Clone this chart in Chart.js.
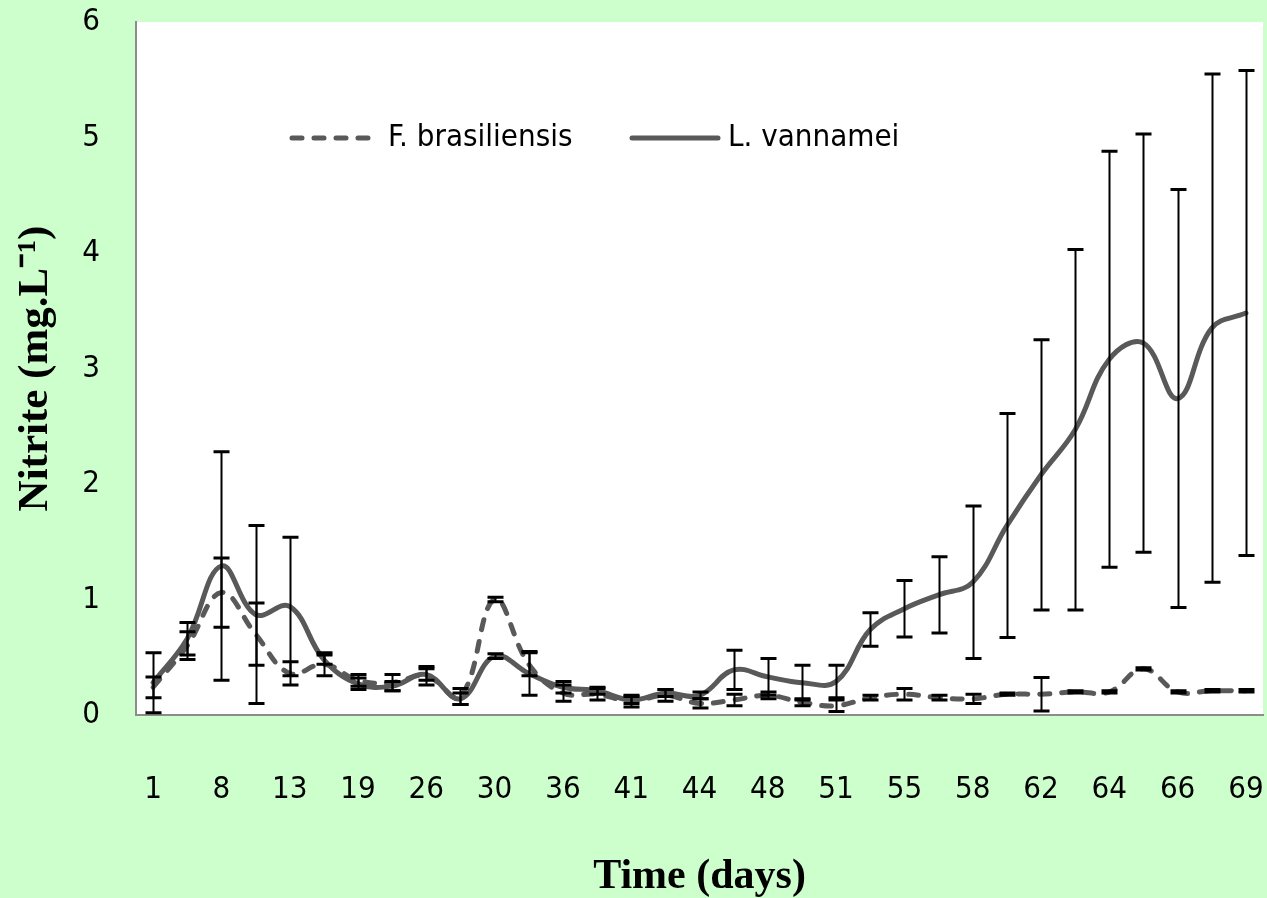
<!DOCTYPE html>
<html>
<head>
<meta charset="utf-8">
<script src="https://cdn.jsdelivr.net/npm/chart.js@4.4.1/dist/chart.umd.min.js"></script>
<style>
    html, body { margin: 0; padding: 0; background: #ccffcc; }
    canvas { display: block; }
</style>
</head>
<body>
<canvas id="nitrite-chart" width="1267" height="898"></canvas>
<script>
// sampling days (only every other one gets a label on the axis)
const days = [1, 4, 8, 11, 13, 16, 19, 22, 26, 28, 30, 33, 36, 39, 41, 43, 44,
    46, 48, 50, 51, 53, 55, 57, 58, 60, 62, 63, 64, 65, 66, 67, 69];

// F. brasiliensis, mean and +/- error
const fbValues = [0.24, 0.6, 1.06, 0.7, 0.36, 0.44, 0.3, 0.28, 0.34, 0.16, 1.0, 0.44, 0.19, 0.18, 0.12, 0.17, 0.1,
    0.13, 0.17, 0.11, 0.08, 0.15, 0.18, 0.15, 0.14, 0.18, 0.18, 0.2, 0.2, 0.4, 0.2, 0.21, 0.21];
const fbErrors = [0.09, 0.12, 0.3, 0.27, 0.1, 0.1, 0.05, 0.07, 0.08, 0.07, 0.02, 0.1, 0.07, 0.05, 0.05, 0.05, 0.04,
    0.05, 0.03, 0.03, 0.05, 0.02, 0.05, 0.02, 0.04, 0.01, 0.145, 0.01, 0.01, 0.01, 0.01, 0.01, 0.01];

// L. vannamei, mean and +/- error
const lvValues = [0.28, 0.66, 1.29, 0.87, 0.94, 0.48, 0.27, 0.25, 0.35, 0.14, 0.51, 0.36, 0.24, 0.21, 0.13, 0.19, 0.17,
    0.39, 0.33, 0.28, 0.29, 0.74, 0.92, 1.04, 1.15, 1.64, 2.08, 2.47, 3.08, 3.22, 2.74, 3.35, 3.48];
const lvErrors = [0.26, 0.14, 0.99, 0.77, 0.6, 0.04, 0.05, 0.04, 0.05, 0.05, 0.02, 0.19, 0.05, 0.03, 0.03, 0.03, 0.03,
    0.17, 0.16, 0.15, 0.14, 0.145, 0.245, 0.33, 0.66, 0.97, 1.17, 1.56, 1.8, 1.81, 1.81, 2.2, 2.1];

const yTicks = [0, 1, 2, 3, 4, 5, 6];

const linecolor = "#595959";
const tickfont = "'DejaVu Sans Condensed', 'Liberation Sans Narrow', sans-serif";
const titlefont = "'Liberation Serif', 'Times New Roman', serif";

const backgroundplugin = {
    id: "background",
    beforeDraw(chart) {
        const { ctx, chartArea } = chart;
        ctx.save();
        ctx.fillStyle = "#ccffcc";
        ctx.fillRect(0, 0, chart.width, chart.height);
        ctx.fillStyle = "#ffffff";
        ctx.fillRect(chartArea.left, chartArea.top, chartArea.right - chartArea.left, chartArea.bottom - chartArea.top);
        ctx.restore();
    },
};

const errorbarplugin = {
    id: "errorbars",
    afterDatasetsDraw(chart) {
        const { ctx, chartArea } = chart;
        const yscale = chart.scales.y;
        ctx.save();
        ctx.strokeStyle = "#000000";
        chart.data.datasets.forEach((ds, i) => {
            const meta = chart.getDatasetMeta(i);
            meta.data.forEach((pt, j) => {
                const v = ds.data[j];
                const e = ds.errors[j];
                const top = Math.max(chartArea.top, yscale.getPixelForValue(v + e));
                const bottom = Math.min(chartArea.bottom, yscale.getPixelForValue(Math.max(0, v - e)));
                const x = Math.round(pt.x) + 0.5;
                ctx.lineWidth = 2;
                ctx.beginPath();
                ctx.moveTo(x, top);
                ctx.lineTo(x, bottom);
                ctx.stroke();
                ctx.lineWidth = 3;
                ctx.beginPath();
                ctx.moveTo(x - 8, top);
                ctx.lineTo(x + 8, top);
                ctx.moveTo(x - 8, bottom);
                ctx.lineTo(x + 8, bottom);
                ctx.stroke();
            });
        });
        ctx.restore();
    },
};

// legend sits inside the plot area, so it is drawn by hand
const legendplugin = {
    id: "insidelegend",
    afterDraw(chart) {
        const { ctx } = chart;
        const items = [
            { ds: chart.data.datasets[0], x: 292 },
            { ds: chart.data.datasets[1], x: 632 },
        ];
        const y = 138;
        ctx.save();
        items.forEach((item) => {
            ctx.strokeStyle = item.ds.borderColor;
            ctx.lineWidth = item.ds.borderWidth;
            ctx.lineCap = "round";
            ctx.setLineDash(item.ds.borderDash || []);
            ctx.beginPath();
            ctx.moveTo(item.x, y);
            ctx.lineTo(item.x + 86, y);
            ctx.stroke();
            ctx.setLineDash([]);
            ctx.fillStyle = "#000000";
            ctx.font = `31px ${tickfont}`;
            ctx.textBaseline = "middle";
            ctx.textAlign = "left";
            ctx.fillText(item.ds.label, item.x + 96, y);
        });
        ctx.restore();
    },
};

const ctx = document.getElementById("nitrite-chart").getContext("2d");

const chart = new Chart(ctx, {
    type: "line",
    data: {
        labels: days,
        datasets: [
            {
                label: "F. brasiliensis",
                data: fbValues,
                errors: fbErrors,
                borderColor: linecolor,
                borderWidth: 5,
                borderDash: [10, 12],
                borderCapStyle: "round",
                tension: 0.4,
                pointRadius: 0,
                order: 1,
            },
            {
                label: "L. vannamei",
                data: lvValues,
                errors: lvErrors,
                borderColor: linecolor,
                borderWidth: 5,
                borderCapStyle: "round",
                tension: 0.4,
                pointRadius: 0,
                order: 0,
            },
        ],
    },
    options: {
        responsive: false,
        animation: false,
        layout: {
            padding: { top: 22, right: 4, left: 0, bottom: 0 },
        },
        plugins: {
            legend: { display: false },
            tooltip: { enabled: false },
        },
        scales: {
            x: {
                offset: true,
                grid: { display: false, drawTicks: false },
                border: { display: true, color: "#8c8c8c", width: 2 },
                ticks: {
                    autoSkip: false,
                    maxRotation: 0,
                    padding: 56,
                    color: "#000000",
                    font: { family: tickfont, size: 31 },
                    callback: function (value, index) {
                        return index % 2 === 0 ? String(days[index]) : "";
                    },
                },
                title: {
                    display: true,
                    text: "Time (days)",
                    color: "#000000",
                    font: { family: titlefont, size: 42, weight: "bold", lineHeight: 1 },
                    padding: 0,
                },
                afterFit: function (scale) {
                    scale.height = 183;
                    scale.paddingLeft = 0;
                    scale.paddingRight = 0;
                },
            },
            y: {
                min: yTicks[0],
                max: yTicks[yTicks.length - 1],
                grid: { display: false, drawTicks: false },
                border: { display: true, color: "#8c8c8c", width: 2 },
                ticks: {
                    stepSize: 1,
                    padding: 36,
                    color: "#000000",
                    font: { family: tickfont, size: 31 },
                },
                title: {
                    display: true,
                    text: "Nitrite (mg.L\u207B\u00B9)",
                    color: "#000000",
                    font: { family: titlefont, size: 43, weight: "bold", lineHeight: 1 },
                    padding: { top: 14, bottom: 0 },
                },
                afterFit: function (scale) {
                    scale.width = 136;
                    scale.paddingTop = 0;
                    scale.paddingBottom = 0;
                },
            },
        },
    },
    plugins: [backgroundplugin, errorbarplugin, legendplugin],
});
</script>
</body>
</html>
